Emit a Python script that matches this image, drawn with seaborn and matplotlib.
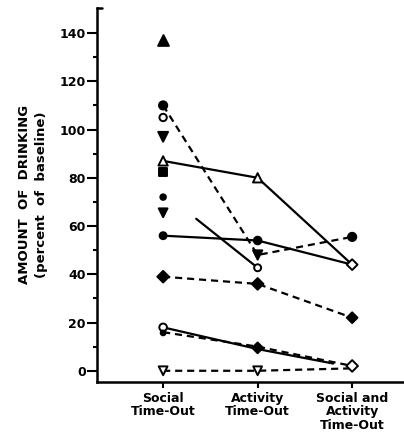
import matplotlib
matplotlib.use("Agg")
import matplotlib.pyplot as plt
import pandas as pd
import seaborn as sns

conditions = ["Social\nTime-Out", "Activity\nTime-Out", "Social and\nActivity\nTime-Out"]
y_ticks = [0, 20, 40, 60, 80, 100, 120, 140]

# connected subjects: x position (condition index), value (% of baseline)
line_a_x = [0, 1, 2]; line_a = [110, 48, 55.5]
line_b_x = [0, 1, 2]; line_b = [87, 80, 44]
line_c_x = [0.35, 1]; line_c = [63, 42.7]
line_d_x = [0, 1, 2]; line_d = [56, 54, 44]
line_e_x = [0, 1, 2]; line_e = [39, 36, 22]
line_f_x = [0, 1, 1.8]; line_f = [18, 9, 3]
line_g_x = [0, 1, 2]; line_g = [16, 10, 2]
line_h_x = [0, 1, 2]; line_h = [0, 0, 1]
line_styles = ["dashed", "solid", "solid", "solid", "dashed", "solid", "dashed", "dashed"]

# plotted symbols
marker_x = [0, 0, 0, 0, 0, 0,
            0, 1, 2,
            0, 1, 2,
            1,
            0, 1,
            0, 1, 2,
            0, 1,
            0,
            0, 1, 2]
marker_y = [137, 105, 97, 82.4, 72, 65.5,
            110, 48, 55.5,
            87, 80, 44,
            42.7,
            56, 54,
            39, 36, 22,
            18, 9.5,
            15.7,
            0, 0, 2]
marker_shape = ["^", "o", "v", "s", "o", "v",
                "o", "v", "o",
                "^", "^", "D",
                "o",
                "o", "o",
                "D", "D", "D",
                "o", "D",
                "o",
                "v", "v", "D"]
marker_fill = [True, False, True, True, True, True,
               True, True, True,
               False, False, False,
               False,
               True, True,
               True, True, True,
               False, True,
               True,
               False, False, False]
marker_size = [60, 28, 50, 30, 16, 40,
               35, 45, 35,
               45, 45, 30,
               25,
               25, 30,
               35, 35, 30,
               30, 30,
               12,
               40, 40, 35]

sns.set_style("ticks")
plt.rcParams["font.family"] = ["DejaVu Sans"]
plt.rcParams["font.weight"] = "bold"

fig = plt.figure(figsize=(4.04, 4.43), dpi=100)
ax = fig.add_axes([0.240, 0.138, 0.758, 0.844])

lines = [(line_a_x, line_a), (line_b_x, line_b), (line_c_x, line_c), (line_d_x, line_d),
         (line_e_x, line_e), (line_f_x, line_f), (line_g_x, line_g), (line_h_x, line_h)]
for (xs, ys), ls in zip(lines, line_styles):
    df = pd.DataFrame({"x": xs, "y": ys})
    sns.lineplot(data=df, x="x", y="y", ax=ax, color="black", linewidth=1.6,
                 estimator=None, sort=False,
                 dashes=False, linestyle=ls)
    if ls == "dashed":
        ax.lines[-1].set_dashes((3.2, 2.2))

mdf = pd.DataFrame({"x": marker_x, "y": marker_y, "m": marker_shape,
                    "f": marker_fill, "s": marker_size})
for (m, f), sub in mdf.groupby(["m", "f"]):
    sns.scatterplot(data=sub, x="x", y="y", ax=ax, marker=m, s=sub["s"].tolist(),
                    facecolor="black" if f else "white", edgecolor="black",
                    linewidth=1.4, zorder=5, legend=False)

ax.set_xlim(-0.70, 2.54)
ax.set_ylim(-4.6, 150.4)
ax.set_xticks([0, 1, 2])
ax.set_xticklabels(conditions, fontsize=9, fontweight="bold", linespacing=1.05, color="black")
ax.set_yticks(y_ticks)
ax.set_yticklabels([str(v) for v in y_ticks], fontsize=9, fontweight="bold", color="black")
ax.set_yticks([10, 30, 50, 70, 90, 110, 130], minor=True)
ax.tick_params(axis="y", which="major", length=7, width=1.5, direction="out", pad=1, colors="black")
ax.tick_params(axis="y", which="minor", length=3, width=1.5, direction="out", colors="black")
ax.tick_params(axis="x", length=4, width=1.5, direction="out", pad=3, colors="black")
ax.set_xlabel("")
ax.set_ylabel("AMOUNT  OF  DRINKING\n(percent  of  baseline)", fontsize=9.5,
              fontweight="bold", linespacing=1.45, labelpad=8, color="black")

for side in ["top", "right"]:
    ax.spines[side].set_visible(False)
for side in ["left", "bottom"]:
    ax.spines[side].set_linewidth(1.8)
    ax.spines[side].set_color("black")
ax.plot([0, 0.018], [1, 1], transform=ax.transAxes, color="black", linewidth=1.8, clip_on=False)

fig.savefig("out.png", dpi=100)
